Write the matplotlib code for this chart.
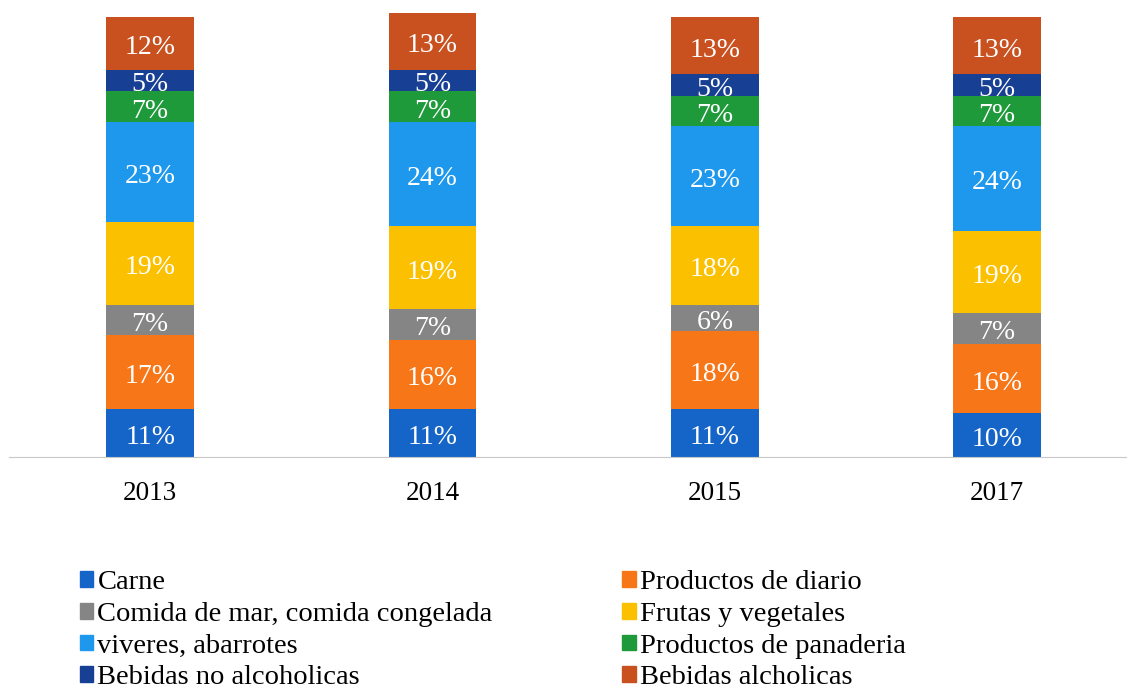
import matplotlib.pyplot as plt
import numpy as np
from matplotlib.patches import Patch

plt.rcParams['font.family'] = ['Liberation Serif', 'DejaVu Serif']

years = ['2013', '2014', '2015', '2017']
series = ['Carne', 'Productos de diario', 'Comida de mar, comida congelada',
          'Frutas y vegetales', 'viveres, abarrotes', 'Productos de panaderia',
          'Bebidas no alcoholicas', 'Bebidas alcholicas']
carne = [11, 11, 11, 10]
diario = [17, 16, 18, 16]
mar = [7, 7, 6, 7]
frutas = [19, 19, 18, 19]
viveres = [23, 24, 23, 24]
panaderia = [7, 7, 7, 7]
no_alcohol = [5, 5, 5, 5]
alcohol = [12, 13, 13, 13]
colors = ['#1565c8', '#f77718', '#858585', '#fbc000',
          '#1d98ec', '#1f9a3a', '#173f94', '#c9501f']

values = [carne, diario, mar, frutas, viveres, panaderia, no_alcohol, alcohol]

fig = plt.figure(figsize=(11.27, 6.89), dpi=100)
ax = fig.add_axes([0.008, 0.3367, 0.992, 0.6443])

x = np.arange(len(years))
bottom = np.zeros(len(years))
for name, vals, c in zip(series, values, colors):
    vals = np.array(vals, dtype=float)
    ax.bar(x, vals, width=0.31, bottom=bottom, color=c, label=name)
    for xi, b, v in zip(x, bottom, vals):
        ax.text(xi, b + v / 2 - 1.0, f'{int(v)}%', ha='center', va='center',
                color='white', fontsize=20)
    bottom += vals

ax.set_xlim(-0.5, 3.46)
ax.set_ylim(0, 102)
ax.set_xticks(x)
ax.set_xticklabels(years, fontsize=19.5)
ax.tick_params(axis='x', length=0, pad=17)
ax.set_yticks([])
for s in ['top', 'left', 'right']:
    ax.spines[s].set_visible(False)
ax.spines['bottom'].set_color('#c8c8c8')

order = [0, 2, 4, 6, 1, 3, 5, 7]
handles = [Patch(color=colors[i], label=series[i]) for i in order]
fig.legend(handles=handles, ncol=2, loc='upper left',
           bbox_to_anchor=(0.071, 0.1724), frameon=False, fontsize=20.5,
           handlelength=0.46, handleheight=0.46, handletextpad=0.15,
           labelspacing=0.235, columnspacing=4.56, borderaxespad=0,
           borderpad=0)

fig.savefig('out.png', dpi=100)
